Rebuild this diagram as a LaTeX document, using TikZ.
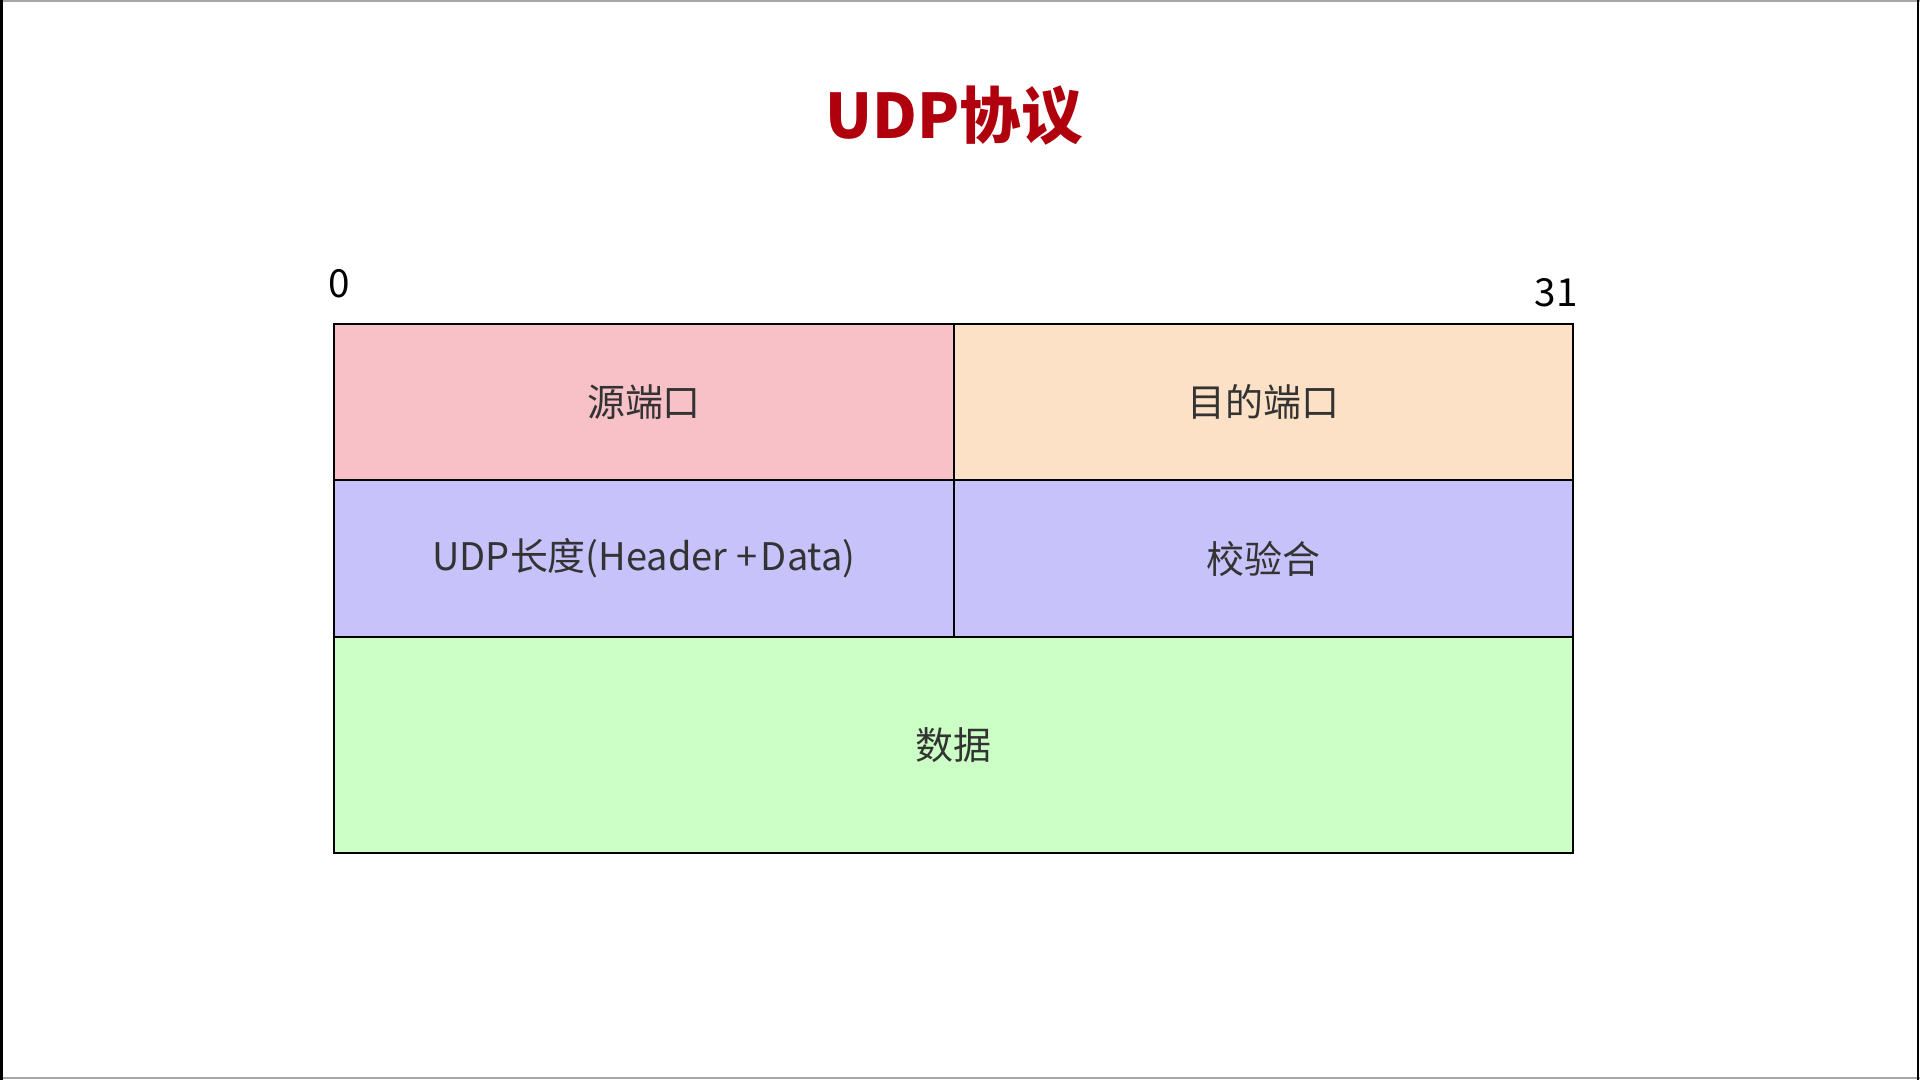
\documentclass[tikz,border=0pt]{standalone}
\usepackage{fontspec}
\setmainfont{Noto Sans CJK SC}
\newfontfamily\cjk{Noto Sans CJK SC}
\definecolor{titlered}{HTML}{B0000E}
\definecolor{cpink}{HTML}{F8C1C8}
\definecolor{cpeach}{HTML}{FCE1C6}
\definecolor{clav}{HTML}{C8C2FB}
\definecolor{cgreen}{HTML}{CCFFC5}
\definecolor{ctext}{HTML}{333333}
\begin{document}
\begin{tikzpicture}[x=0.01cm,y=-0.01cm,
  cell/.style={draw=black,line width=0.6pt,anchor=north west,inner sep=0pt,outer sep=0pt,
    text=ctext,font=\cjk\fontsize{10.8pt}{13pt}\selectfont},
  bitlabel/.style={text=black,font=\cjk\fontsize{11pt}{13pt}\selectfont,inner sep=0pt}]
  \useasboundingbox (0,0) rectangle (1920,1080);
  \fill[white] (0,0) rectangle (1920,1080);
  % frame
  \draw[gray!70,line width=0.6pt] (0,1) -- (1920,1);
  \draw[gray!70,line width=0.6pt] (0,1078) -- (1920,1078);
  \draw[black,line width=0.8pt] (1.5,0) -- (1.5,1080);
  \draw[black,line width=0.8pt] (1918,0) -- (1918,1080);
  % title
  \node[text=titlered,font=\cjk\bfseries\fontsize{17.5pt}{20pt}\selectfont] (title) at (954,116) {UDP协议};
  % cells
  \node[cell,fill=cpink,minimum width=620*0.01cm,minimum height=156*0.01cm] (src) at (334,324) {源端口};
  \node[cell,fill=cpeach,minimum width=619*0.01cm,minimum height=156*0.01cm] (dst) at (954,324) {目的端口};
  \node[cell,fill=clav,minimum width=620*0.01cm,minimum height=157*0.01cm] (len) at (334,480) {UDP长度(Header\hspace{2.5pt}+\hspace{1pt}Data)};
  \node[cell,fill=clav,minimum width=619*0.01cm,minimum height=157*0.01cm] (chk) at (954,480) {校验合};
  \node[cell,fill=cgreen,minimum width=1239*0.01cm,minimum height=216*0.01cm] (data) at (334,637) {数据};
  % bit labels
  \node[bitlabel] (b0) at (339,284) {0};
  \node[bitlabel] (b31) at (1556,293) {31};
\end{tikzpicture}
\end{document}
